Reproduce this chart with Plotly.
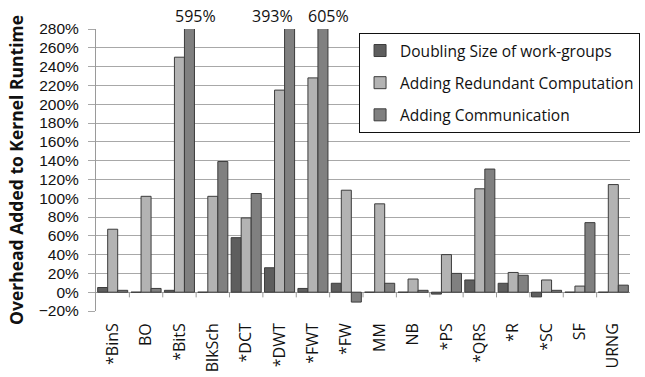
import plotly.graph_objects as go

# Benchmarks (asterisk marks the kernels flagged in the study)
benchmarks = ["*BinS", "BO", "*BitS", "BlkSch", "*DCT", "*DWT", "*FWT", "*FW",
              "MM", "NB", "*PS", "*QRS", "*R", "*SC", "SF", "URNG"]

# Overhead added to kernel runtime, in percent
doubling_wg = [5, 0, 2, 0, 58, 26, 4, 9.5, 0, 0, -2, 13, 9.5, -5, 0, 0]
redundant_comp = [67, 102, 250, 102, 79, 215, 228, 108.5, 94, 14, 40, 110, 21, 13, 6.5, 114.5]
communication = [2, 4, 595, 139, 105, 393, 605, -10.5, 9.5, 2, 20, 131, 18, 2, 74, 7.5]

series_names = ["Doubling Size of work-groups",
                "Adding Redundant Computation",
                "Adding Communication"]

y_min, y_max = -20, 280
font_family = "'Open Sans', 'Noto Sans', sans-serif"
tick_family = "'Liberation Sans', Arial, sans-serif"

fig = go.Figure()
fills = ["#5e5e5e", "#b3b3b3", "#808080"]
for i, (name, vals, col) in enumerate(zip(series_names,
                                          [doubling_wg, redundant_comp, communication],
                                          fills)):
    fig.add_trace(go.Bar(
        x=benchmarks, y=vals, name=name, legendgroup=f"g{i}",
        marker=dict(color=col, line=dict(color="#3c3c3c", width=1)),
    ))

# Values that run off the top of the axis get a label above the plot
shifts = {"*BitS": 16, "*DWT": -7, "*FWT": 16}
for b, v in zip(benchmarks, communication):
    if v > y_max:
        fig.add_annotation(x=b, y=1.0, yref="paper", yanchor="bottom",
                           text=f"{v}%", showarrow=False, yshift=0,
                           xshift=shifts.get(b, 0),
                           font=dict(size=16, family=font_family, color="#111"))

# Category separator ticks hanging from the 0% axis line
for k in range(len(benchmarks) - 1):
    fig.add_shape(type="line", xref="x", yref="y",
                  x0=k + 0.5, x1=k + 0.5, y0=0, y1=-5.5,
                  line=dict(color="#9a9a9a", width=1))

fig.update_layout(
    width=645, height=377,
    margin=dict(l=96, r=5, t=29, b=66),
    paper_bgcolor="white", plot_bgcolor="white",
    barmode="group", bargap=0.1, bargroupgap=0,
    font=dict(family=font_family, size=16, color="#111"),
    legend=dict(x=0.4926, y=0.986, xanchor="left", yanchor="top",
                bgcolor="white", bordercolor="#111", borderwidth=1,
                traceorder="grouped", tracegroupgap=9, itemwidth=30,
                font=dict(size=15.5, family=font_family)),
    xaxis=dict(type="category", tickangle=-90, showgrid=False,
               showline=False, ticks="", ticklabelstandoff=8,
               tickfont=dict(size=16)),
    yaxis=dict(range=[y_min, y_max], dtick=20, ticksuffix="%",
               showgrid=True, gridcolor="#a8a8a8", gridwidth=1,
               zeroline=True, zerolinecolor="#9a9a9a", zerolinewidth=1,
               showline=True, linecolor="#9a9a9a", linewidth=1,
               ticks="outside", ticklen=7, tickcolor="#a8a8a8",
               ticklabelstandoff=6,
               tickfont=dict(size=15.5, family=tick_family),
               title=dict(text="<b>Overhead Added to Kernel Runtime</b>",
                          font=dict(size=17.5), standoff=10)),
)

fig.write_html("out.html")
